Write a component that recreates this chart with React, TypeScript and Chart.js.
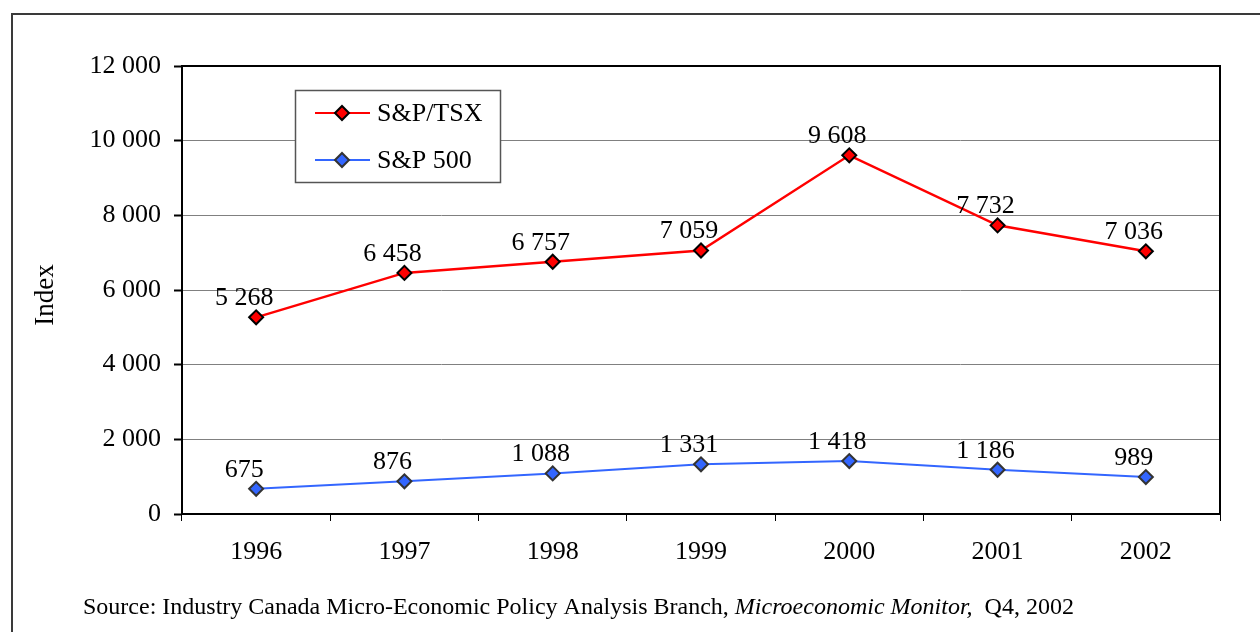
import React, { useEffect, useRef } from 'react';
import { Chart, registerables } from 'chart.js';

Chart.register(...registerables);

const years = ['1996', '1997', '1998', '1999', '2000', '2001', '2002'];
const tsxValues = [5268, 6458, 6757, 7059, 9608, 7732, 7036];
const sp500Values = [675, 876, 1088, 1331, 1418, 1186, 989];
const seriesNames = ['S&P/TSX', 'S&P 500'];
const yMin = 0;
const yMax = 12000;
const yStep = 2000;
const axisTitle = 'Index';
const sourceParts: { text: string; italic: boolean }[] = [
  { text: 'Source: Industry Canada Micro-Economic Policy Analysis Branch, ', italic: false },
  { text: 'Microeconomic Monitor,', italic: true },
  { text: '  Q4, 2002', italic: false },
];

const FONT = "'Liberation Serif', 'Times New Roman', serif";
const fmt = (v: number) => String(Math.round(v)).replace(/\B(?=(\d{3})+(?!\d))/g, ' ');

function diamond(ctx: CanvasRenderingContext2D, x: number, y: number, r: number) {
  ctx.beginPath();
  ctx.moveTo(x - r, y);
  ctx.lineTo(x, y - r);
  ctx.lineTo(x + r, y);
  ctx.lineTo(x, y + r);
  ctx.closePath();
}

const decorPlugin = {
  id: 'decor',
  beforeDraw(chart: any) {
    const ctx = chart.ctx as CanvasRenderingContext2D;
    ctx.save();
    ctx.fillStyle = '#ffffff';
    ctx.fillRect(0, 0, chart.width, chart.height);
    ctx.strokeStyle = '#3a3a3a';
    ctx.lineWidth = 2;
    ctx.strokeRect(12, 14, chart.width + 40, chart.height + 40);
    ctx.restore();
  },
  afterDatasetsDraw(chart: any) {
    const ctx = chart.ctx as CanvasRenderingContext2D;
    const area = chart.chartArea;
    ctx.save();
    // plot border
    ctx.strokeStyle = '#000000';
    ctx.lineWidth = 2;
    ctx.strokeRect(area.left, area.top, area.right - area.left, area.bottom - area.top);

    // data labels
    ctx.fillStyle = '#000000';
    ctx.font = `26px ${FONT}`;
    ctx.textAlign = 'center';
    ctx.textBaseline = 'alphabetic';
    chart.data.datasets.forEach((ds: any, i: number) => {
      const meta = chart.getDatasetMeta(i);
      meta.data.forEach((pt: any, j: number) => {
        ctx.fillText(fmt(ds.data[j]), pt.x - 12, pt.y - 12);
      });
    });

    // legend
    const bx = 295, by = 90, bw = 205, bh = 92;
    ctx.fillStyle = '#ffffff';
    ctx.fillRect(bx, by, bw, bh);
    ctx.strokeStyle = '#555555';
    ctx.lineWidth = 1.5;
    ctx.strokeRect(bx + 0.5, by + 0.5, bw, bh);
    const rows = [113, 160];
    chart.data.datasets.forEach((ds: any, i: number) => {
      const y = rows[i];
      ctx.strokeStyle = ds.borderColor;
      ctx.lineWidth = 2;
      ctx.beginPath();
      ctx.moveTo(315, y);
      ctx.lineTo(370, y);
      ctx.stroke();
      diamond(ctx, 342, y, 7);
      ctx.fillStyle = ds.pointBackgroundColor;
      ctx.fill();
      ctx.strokeStyle = ds.pointBorderColor;
      ctx.lineWidth = 2;
      ctx.stroke();
      ctx.fillStyle = '#000000';
      ctx.font = `26px ${FONT}`;
      ctx.textAlign = 'left';
      ctx.textBaseline = 'middle';
      ctx.fillText(ds.label, 377, y + 1);
    });

    // source line
    let x = 83;
    ctx.textAlign = 'left';
    ctx.textBaseline = 'alphabetic';
    ctx.fillStyle = '#000000';
    sourceParts.forEach((p) => {
      ctx.font = `${p.italic ? 'italic ' : ''}24px ${FONT}`;
      ctx.fillText(p.text, x, 614);
      x += ctx.measureText(p.text).width;
    });

    // y-axis title
    ctx.save();
    ctx.translate(46, 295);
    ctx.rotate(-Math.PI / 2);
    ctx.font = `27px ${FONT}`;
    ctx.textAlign = 'center';
    ctx.textBaseline = 'middle';
    ctx.fillText(axisTitle, 0, 0);
    ctx.restore();

    ctx.restore();
  },
};

export default function App() {
  const ref = useRef<HTMLCanvasElement>(null);
  useEffect(() => {
    document.body.style.margin = '0';
    const chart = new Chart(ref.current as HTMLCanvasElement, {
      type: 'line',
      data: {
        labels: years,
        datasets: [
          {
            label: seriesNames[0],
            data: tsxValues,
            borderColor: '#ff0000',
            borderWidth: 2.5,
            pointStyle: 'rectRot',
            pointRadius: 7,
            pointBackgroundColor: '#ff0000',
            pointBorderColor: '#000000',
            pointBorderWidth: 2,
            tension: 0,
          },
          {
            label: seriesNames[1],
            data: sp500Values,
            borderColor: '#3366ff',
            borderWidth: 2,
            pointStyle: 'rectRot',
            pointRadius: 7,
            pointBackgroundColor: '#3366ff',
            pointBorderColor: '#333333',
            pointBorderWidth: 2,
            tension: 0,
          },
        ],
      },
      options: {
        animation: false,
        responsive: false,
        devicePixelRatio: 1,
        events: [],
        layout: { padding: { left: 0, top: 66, right: 40, bottom: 58 } },
        plugins: {
          legend: { display: false },
          tooltip: { enabled: false },
        },
        scales: {
          x: {
            type: 'category',
            offset: true,
            afterFit: (scale: any) => {
              scale.height = 60;
            },
            border: { display: false },
            grid: {
              offset: true,
              drawOnChartArea: false,
              drawTicks: true,
              tickLength: 7,
              tickColor: '#000000',
              color: '#000000',
            },
            ticks: {
              font: { family: FONT, size: 26 },
              color: '#000000',
              padding: 16,
              maxRotation: 0,
              autoSkip: false,
            },
          },
          y: {
            min: yMin,
            max: yMax,
            afterFit: (scale: any) => {
              scale.width = 182;
            },
            border: { display: false },
            grid: {
              color: '#808080',
              lineWidth: 1,
              tickColor: '#000000',
              tickLength: 8,
              tickWidth: 2,
            },
            ticks: {
              stepSize: yStep,
              font: { family: FONT, size: 26 },
              color: '#000000',
              padding: 13,
              callback: (v: any) => fmt(Number(v)),
            },
          },
        },
      },
      plugins: [decorPlugin],
    } as any);
    return () => chart.destroy();
  }, []);
  return (
    <div style={{ position: 'absolute', left: 0, top: 0, width: 1260, height: 632 }}>
      <canvas ref={ref} width={1260} height={632} style={{ display: 'block' }} />
    </div>
  );
}
